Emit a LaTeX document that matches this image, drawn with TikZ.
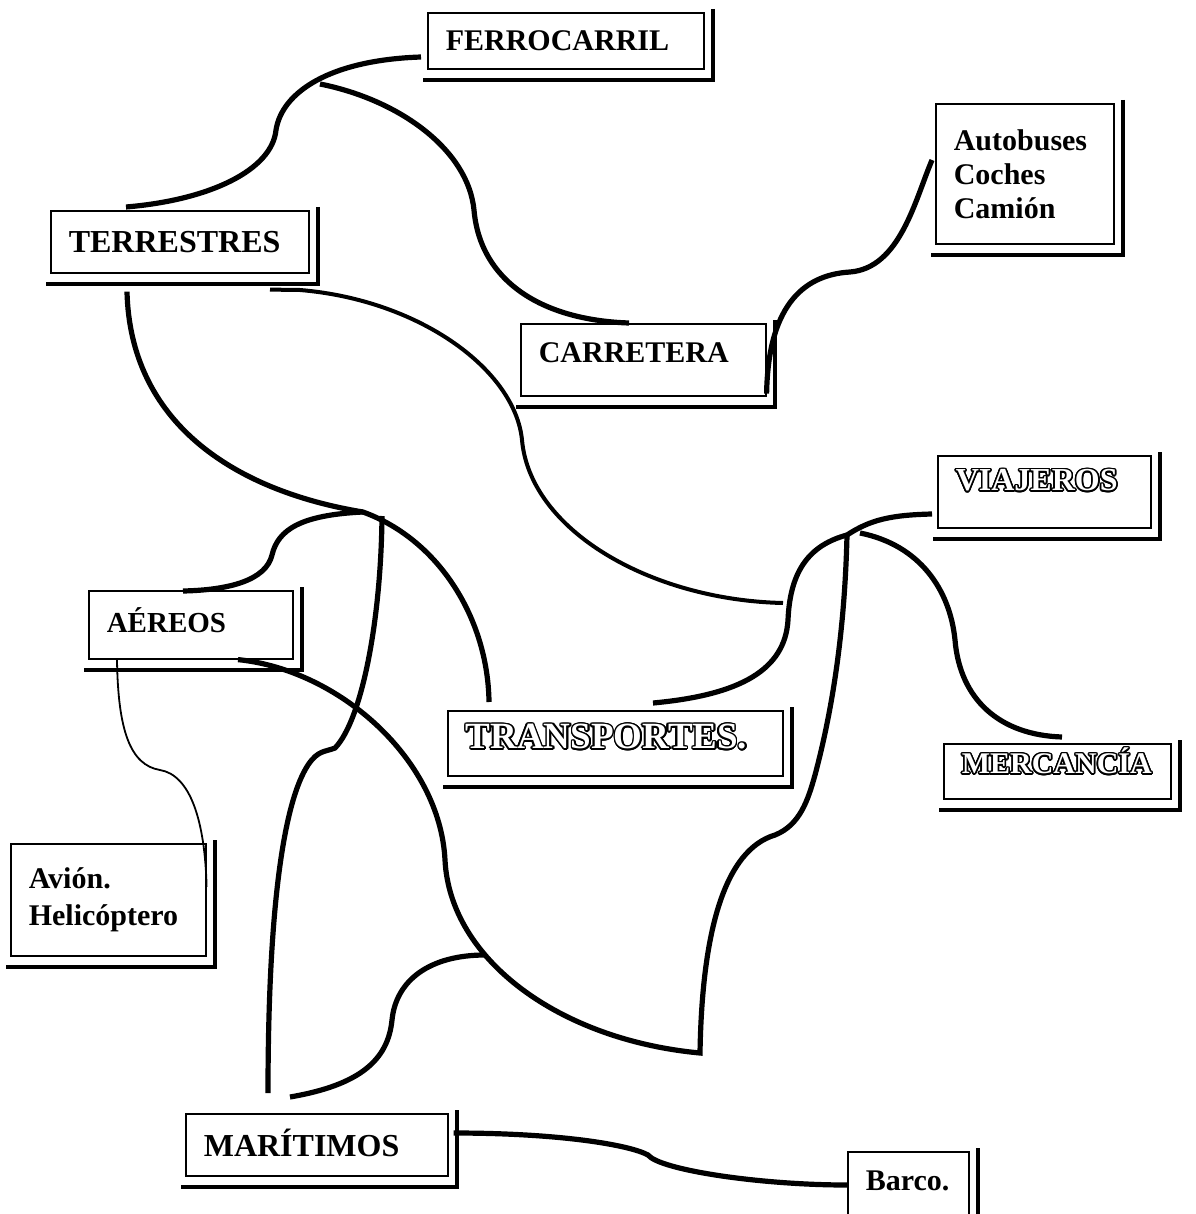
\documentclass[tikz,border=0pt]{standalone}
\usepackage{fontspec}
\setmainfont{Liberation Serif}
\usepackage{contour}
\contourlength{0.8pt}
\usepackage{tikz}
\hyphenpenalty=10000
\exhyphenpenalty=10000
\newcommand{\hollowtext}[1]{{\color{white}\contour{black}{#1}}}
\tikzset{
    box/.style={draw, line width=0.8pt, anchor=north west, inner xsep=9pt, inner ysep=0pt,
        align=left, font=\bfseries\fontsize{15}{17}\selectfont},
    bigfont/.style={font=\bfseries\fontsize{16}{18}\selectfont},
    shadowline/.style={line width=2pt},
    link/.style={line width=2.6pt},
    twolink/.style={line width=2pt},
    thinlink/.style={line width=0.9pt}
}

\begin{document}
\begin{tikzpicture}[x=0.5pt, y=-0.5pt]
    % Page frame
    \fill[white] (0,0) rectangle (1195,1214);
    \useasboundingbox (0,0) rectangle (1195,1214);

    % Boxes
    \node[box, text width=120pt, text height=19pt, text depth=9pt] (ferro) at (427,12) {FERROCARRIL};
    \node[box, text width=71pt, minimum height=70pt] (autos) at (935,103) {Autobuses\\Coches\\Camión};
    \node[box, bigfont, text width=111pt, text height=21pt, text depth=10pt] (terr) at (50,210) {TERRESTRES};
    \node[box, text width=104.5pt, text height=19.5pt, text depth=16.5pt] (carr) at (520,323) {CARRETERA};
    \node[box, bigfont, text width=88.5pt, text height=17.5pt, text depth=18.5pt] (viaj) at (937,455) {\hollowtext{VIAJEROS}};
    \node[box, font=\bfseries\fontsize{14.5}{17}\selectfont, text width=84pt, text height=21pt, text depth=13pt] (aer) at (88,590) {AÉREOS};
    \node[box, font=\bfseries\fontsize{18.5}{20}\selectfont, text width=149.5pt, text height=19pt, text depth=13.5pt] (trans) at (447,710) {\hollowtext{TRANSPORTES.}};
    \node[box, text width=95.5pt, text height=15pt, text depth=12.5pt] (merc) at (943,743) {\hollowtext{MERCANCÍA}};
    \node[box, font=\bfseries\fontsize{15}{18.5}\selectfont, text width=79.5pt, minimum height=56pt] (avion) at (10,843) {Avión.\\Helicóptero};
    \node[box, bigfont, text width=113pt, text height=21.5pt, text depth=9.5pt] (mar) at (185,1113) {MARÍTIMOS};
    \node[box, text width=42.5pt, text height=19.5pt, text depth=20.5pt] (barco) at (847,1151) {Barco.};

    % Box shadows
    \foreach \n in {ferro,autos,terr,carr,viaj,aer,trans,merc,avion,mar,barco} {
        \draw[shadowline] ([shift={(8,-3)}]\n.north east) |- ([shift={(-4,10)}]\n.south west);
    }

    % Junctions
    \coordinate (fork) at (320,84);
    \coordinate (hubT) at (363,512);
    \coordinate (hubV) at (847,535);
    \coordinate (hubC) at (700,1053);
    \coordinate (hubM) at (485,955);
    \coordinate (tend) at (783,603);

    % Land branch
    \draw[link] ([shift={(76,-3)}]terr.north west) .. controls (210,200) and (272,170) .. (276,130)
        .. controls (282,92) and (330,60) .. ([shift={(-6,45)}]ferro.north west);
    \draw[link] (fork) .. controls (400,100) and (468,150) .. (474,210)
        .. controls (480,280) and (540,320) .. ([shift={(109,0)}]carr.north west);
    \draw[link] ([shift={(0,-3)}]carr.south east) .. controls (768,310) and (800,275) .. (850,272)
        .. controls (900,268) and (915,200) .. ([shift={(-3,57)}]autos.north west);
    \draw[twolink] ([shift={(220,16)}]terr.south west) -- (300,290) .. controls (420,300) and (515,370) .. (522,440)
        .. controls (530,530) and (650,600) .. (tend);
    \draw[link] ([shift={(77,18)}]terr.south west) .. controls (130,420) and (230,490) .. (hubT)
        .. controls (440,540) and (488,620) .. ([shift={(42,-8)}]trans.north west);

    % Air and sea branch
    \draw[link] (hubT) .. controls (300,515) and (278,530) .. (272,555)
        .. controls (266,580) and (230,590) .. ([shift={(95,1)}]aer.north west);
    \draw[link] ([shift={(19,4)}]hubT) .. controls (381,620) and (362,720) .. (335,748)
        .. controls (325,752) and (318,750) .. (308,765)
        .. controls (285,800) and (268,900) .. ([shift={(83,-20)}]mar.north west);
    \draw[link] ([shift={(150,0)}]aer.south west) .. controls (340,670) and (440,760) .. (445,860)
        .. controls (450,960) and (560,1040) .. (hubC)
        .. controls (702,930) and (725,850) .. (775,835)
        .. controls (800,825) and (808,800) .. (815,775)
        .. controls (835,700) and (845,620) .. (hubV);
    \draw[link] ([shift={(105,-16)}]mar.north west) .. controls (360,1085) and (388,1060) .. (392,1020)
        .. controls (396,980) and (430,955) .. (hubM);
    \draw[thinlink] ([shift={(29,0)}]aer.south west) .. controls (118,730) and (130,765) .. (160,770)
        .. controls (190,775) and (205,820) .. ([shift={(0,44)}]avion.north east);
    \draw[link] ([shift={(5,20)}]mar.north east) .. controls (560,1133) and (630,1145) .. (648,1155)
        .. controls (660,1170) and (760,1185) .. ([shift={(0,34)}]barco.north west);

    % Passenger and goods branch
    \draw[link] ([shift={(206,-7)}]trans.north west) .. controls (740,695) and (785,670) .. (788,620)
        .. controls (790,570) and (810,545) .. (hubV);
    \draw[link] (hubV) .. controls (870,520) and (890,515) .. ([shift={(-5,59)}]viaj.north west);
    \draw[link] ([shift={(13,-2)}]hubV) .. controls (920,545) and (950,590) .. (955,640)
        .. controls (960,700) and (1000,735) .. ([shift={(119,-6)}]merc.north west);
\end{tikzpicture}
\end{document}
